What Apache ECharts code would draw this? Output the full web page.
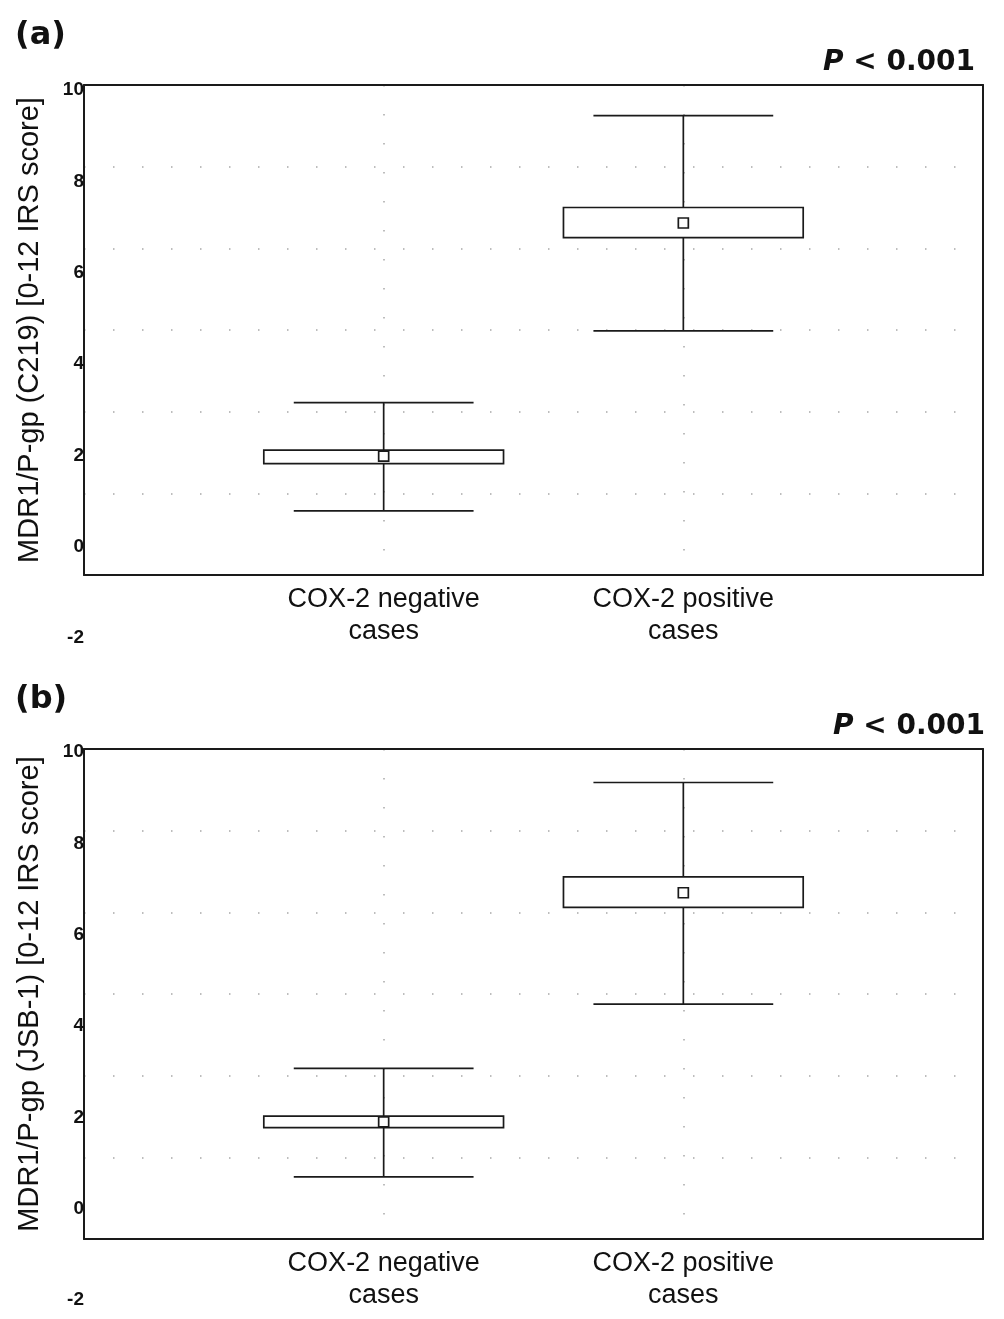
<!DOCTYPE html>
<html>
<head>
<meta charset="utf-8">
<script src="https://cdn.jsdelivr.net/npm/echarts@6/dist/echarts.min.js"></script>
<style>
html,body{margin:0;padding:0;background:#fff;}
#chart{width:1004px;height:1319px;}
</style>
</head>
<body>
<div id="chart"></div>
<script>
// ---- data ----
var categories = ['COX-2 negative\ncases', 'COX-2 positive\ncases'];
var yTickLabels = ['-2', '0', '2', '4', '6', '8', '10'];

// Panel (a): MDR1/P-gp (C219)
var aMean      = [0.91, 6.62];
var aBoxLow    = [0.73, 6.26];
var aBoxHigh   = [1.06, 7.00];
var aWhiskLow  = [-0.43, 3.98];
var aWhiskHigh = [2.22, 9.25];

// Panel (b): MDR1/P-gp (JSB-1)
var bMean      = [0.87, 6.48];
var bBoxLow    = [0.73, 6.12];
var bBoxHigh   = [1.01, 6.87];
var bWhiskLow  = [-0.48, 3.75];
var bWhiskHigh = [2.18, 9.18];

var panelLabels = ['(a)', '(b)'];
var yNames = ['MDR1/P-gp (C219) [0-12 IRS score]', 'MDR1/P-gp (JSB-1) [0-12 IRS score]'];
var pText = '{i|P} < 0.001';

// ---- build ----
function rows(wl, bl, m, bh, wh) {
  return categories.map(function (c, i) { return [i + 1, wl[i], bl[i], m[i], bh[i], wh[i]]; });
}
var FONT = '"Liberation Sans", Arial, sans-serif';
var WIDE = '"DejaVu Sans", "Liberation Sans", Arial, sans-serif';
var NARROW = '"Liberation Sans Narrow", "Liberation Sans", Arial, sans-serif';

function renderItem(params, api) {
  var x = api.value(0);
  var wl = api.coord([x, api.value(1)]);
  var bl = api.coord([x, api.value(2)]);
  var m  = api.coord([x, api.value(3)]);
  var bh = api.coord([x, api.value(4)]);
  var wh = api.coord([x, api.value(5)]);
  var bw = api.size([0.8, 0])[0];
  var cw = api.size([0.6, 0])[0];
  var st = { stroke: '#1a1a1a', lineWidth: 1.7, fill: null };
  return {
    type: 'group',
    children: [
      { type: 'line', shape: { x1: wh[0], y1: wh[1], x2: wl[0], y2: wl[1] }, style: st },
      { type: 'line', shape: { x1: wh[0] - cw / 2, y1: wh[1], x2: wh[0] + cw / 2, y2: wh[1] }, style: st },
      { type: 'line', shape: { x1: wl[0] - cw / 2, y1: wl[1], x2: wl[0] + cw / 2, y2: wl[1] }, style: st },
      { type: 'rect', shape: { x: bh[0] - bw / 2, y: bh[1], width: bw, height: bl[1] - bh[1] },
        style: { stroke: '#1a1a1a', lineWidth: 1.7, fill: '#fff' } },
      { type: 'rect', shape: { x: m[0] - 5, y: m[1] - 5, width: 10, height: 10 },
        style: { stroke: '#1a1a1a', lineWidth: 1.7, fill: '#fff' } }
    ]
  };
}

var plotGrids = [
  { left: 84, top: 85, width: 899, height: 490 },
  { left: 84, top: 749, width: 899, height: 490 }
];
var labelGrids = [
  { left: 84, top: 90, width: 10, height: 548 },
  { left: 84, top: 752, width: 10, height: 548 }
];

var grid = [], xAxis = [], yAxis = [], series = [], title = [];
var dataSets = [
  rows(aWhiskLow, aBoxLow, aMean, aBoxHigh, aWhiskHigh),
  rows(bWhiskLow, bBoxLow, bMean, bBoxHigh, bWhiskHigh)
];
var dotted = { color: '#a8a8a8', width: 1.5, type: [1.5, 27.5] };
var solidFrame = { show: true, onZero: false, lineStyle: { color: '#1a1a1a', width: 2, type: 'solid' } };

for (var p = 0; p < 2; p++) {
  var g = plotGrids[p];
  grid.push({ left: g.left, top: g.top, width: g.width, height: g.height, show: false });
  grid.push({ left: labelGrids[p].left, top: labelGrids[p].top, width: labelGrids[p].width,
              height: labelGrids[p].height, show: false });
  var gi = p * 2;
  var xi = xAxis.length, yi = yAxis.length;
  xAxis.push({
    gridIndex: gi, type: 'value', min: 0, max: 3, interval: 1, position: 'bottom',
    axisLine: solidFrame, axisTick: { show: false },
    splitLine: { show: true, showMinLine: false, showMaxLine: false, lineStyle: dotted },
    axisLabel: {
      margin: 9, color: '#111', fontSize: 27, fontFamily: FONT, lineHeight: 32,
      formatter: function (v) { return (v >= 1 && v <= categories.length && v % 1 === 0) ? categories[v - 1] : ''; }
    }
  });
  xAxis.push({
    gridIndex: gi, type: 'value', min: 0, max: 3, position: 'top',
    axisLine: solidFrame, axisTick: { show: false }, axisLabel: { show: false }, splitLine: { show: false }
  });
  xAxis.push({ gridIndex: gi + 1, type: 'value', show: false, min: 0, max: 1 });
  yAxis.push({
    gridIndex: gi, type: 'value', min: -2, max: 10, interval: 2, position: 'left',
    name: yNames[p], nameLocation: 'middle', nameGap: 40, nameRotate: 90,
    nameTextStyle: { fontSize: 29, fontFamily: FONT, color: '#111' },
    axisLine: solidFrame, axisTick: { show: false }, axisLabel: { show: false },
    splitLine: { show: true, showMinLine: false, showMaxLine: false, lineStyle: dotted }
  });
  yAxis.push({
    gridIndex: gi, type: 'value', min: -2, max: 10, position: 'right',
    axisLine: solidFrame, axisTick: { show: false }, axisLabel: { show: false }, splitLine: { show: false }
  });
  yAxis.push({
    gridIndex: gi + 1, type: 'value', min: -2, max: 10, interval: 2,
    axisLine: { show: false }, axisTick: { show: false }, splitLine: { show: false },
    axisLabel: {
      show: true, margin: 0, color: '#111', fontSize: 19, fontWeight: 'bold', fontFamily: NARROW,
      formatter: function (v) { var i = (v + 2) / 2; return yTickLabels[i] !== undefined ? yTickLabels[i] : ''; }
    }
  });
  series.push({
    type: 'custom', xAxisIndex: xi, yAxisIndex: yi, renderItem: renderItem,
    data: dataSets[p], encode: { x: 0, y: [1, 2, 3, 4, 5] }, silent: true
  });
}

var labStyle = { fontSize: 32, fontWeight: 'bold', fontFamily: WIDE, color: '#111' };
title.push({ text: panelLabels[0], left: 10, top: 15, textStyle: labStyle });
title.push({ text: panelLabels[1], left: 10, top: 679, textStyle: labStyle });
var pStyle = { fontSize: 28, fontWeight: 'bold', fontFamily: WIDE, color: '#111',
  rich: { i: { fontSize: 28, fontWeight: 'bold', fontStyle: 'italic', fontFamily: WIDE, color: '#111' } } };
title.push({ text: pText, right: 24, top: 44, textStyle: pStyle });
title.push({ text: pText, right: 14, top: 708, textStyle: pStyle });

var chart = echarts.init(document.getElementById('chart'), null, { renderer: 'canvas' });
chart.setOption({
  animation: false,
  backgroundColor: '#fff',
  title: title,
  grid: grid,
  xAxis: xAxis,
  yAxis: yAxis,
  series: series
});
</script>
</body>
</html>
